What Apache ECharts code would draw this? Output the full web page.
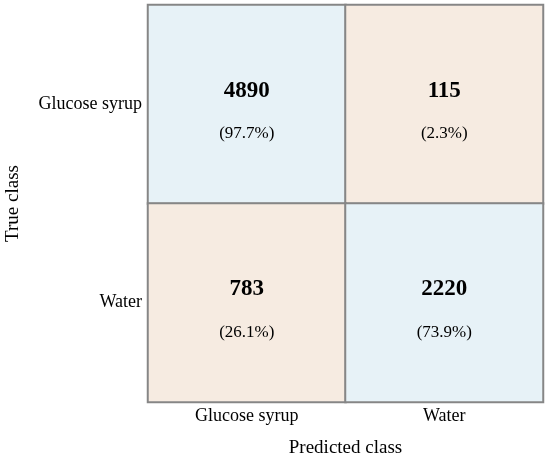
<!doctype html>
<html>
	<head>
		<meta charset="utf-8">
		<title></title>
		<script src="https://cdn.jsdelivr.net/npm/echarts@6/dist/echarts.min.js"></script>
		<style>
			html,body {
				margin: 0;
				width: 100%;
				height: 100%;
				background-color: #fff;
			}
			#container {
				width: 550px;
				height: 459px;
			}
		</style>
	</head>
	<body>
		<div id="container"></div>
		<script type="text/javascript">
			var predicted = ['Glucose syrup', 'Water'];
			var actual = ['Glucose syrup', 'Water'];
			// counts[row][col]: row = true class, col = predicted class
			var counts = [
				[4890, 115],
				[783, 2220]
			];
			var percents = [
				['97.7%', '2.3%'],
				['26.1%', '73.9%']
			];

			var font = '"Liberation Serif", "Times New Roman", serif';
			var data = [];
			for (var i = 0; i < actual.length; i++) {
				for (var j = 0; j < predicted.length; j++) {
					data.push({
						value: [j, i, counts[i][j]],
						pct: percents[i][j],
						itemStyle: {
							color: i == j ? '#e7f2f7' : '#f6ebe1'
						}
					});
				}
			}

			var myChart = echarts.init(document.getElementById('container'));
			var option = {
				animation: false,
				grid: {
					left: 148,
					right: 7,
					top: 5,
					bottom: 57,
					outerBoundsMode: 'none'
				},
				xAxis: {
					type: 'category',
					data: predicted,
					name: 'Predicted class',
					nameLocation: 'middle',
					nameGap: 37,
					nameTextStyle: { fontFamily: font, fontSize: 19, color: '#000' },
					axisLine: { show: false },
					axisTick: { show: false },
					axisLabel: { fontFamily: font, fontSize: 18, color: '#000', margin: 5 },
					splitLine: { show: false }
				},
				yAxis: {
					type: 'category',
					data: actual,
					inverse: true,
					name: 'True class',
					nameLocation: 'middle',
					nameGap: 125,
					nameTextStyle: { fontFamily: font, fontSize: 19, color: '#000' },
					axisLine: { show: false },
					axisTick: { show: false },
					axisLabel: { fontFamily: font, fontSize: 18, color: '#000', margin: 6 },
					splitLine: { show: false }
				},
				series: [{
					type: 'heatmap',
					data: data,
					itemStyle: {
						borderColor: '#868686',
						borderWidth: 2
					},
					emphasis: { disabled: true },
					label: {
						show: true,
						offset: [0, 8],
						formatter: function(p) {
							return '{n|' + p.value[2] + '}\n{p|(' + p.data.pct + ')}';
						},
						rich: {
							n: { fontFamily: font, fontSize: 23, fontWeight: 'bold', color: '#000', lineHeight: 43 },
							p: { fontFamily: font, fontSize: 17, color: '#000', lineHeight: 43 }
						}
					}
				}]
			};
			myChart.setOption(option, true);
		</script>
	</body>
</html>
